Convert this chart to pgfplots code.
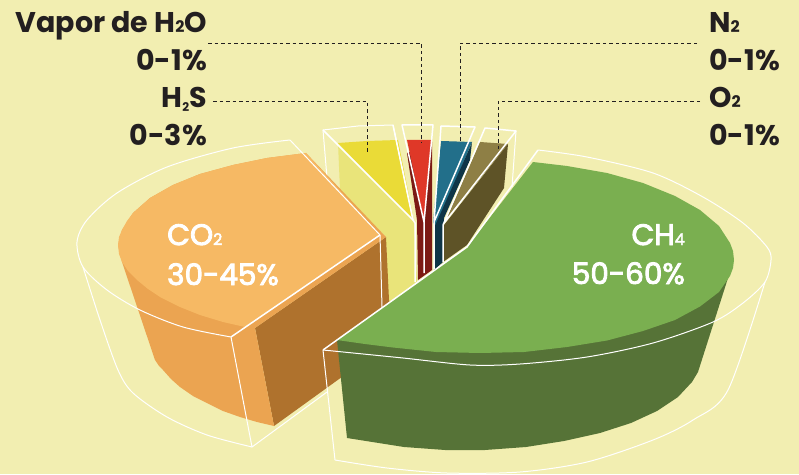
\documentclass[border=0pt]{standalone}
\usepackage{pgfplots}
\pgfplotsset{compat=1.18}
\usepackage{fontspec}
\setmainfont{Poppins}
\newfontfamily\whfont{Poppins}[FakeBold=3]
\definecolor{bgc}{HTML}{F2EEB1}
\definecolor{orT}{HTML}{F6B964}
\definecolor{orS}{HTML}{EBA451}
\definecolor{brn}{HTML}{AF722D}
\definecolor{grT}{HTML}{7AAF50}
\definecolor{grS}{HTML}{567337}
\definecolor{yeT}{HTML}{EADB37}
\definecolor{yeS}{HTML}{E9E47A}
\definecolor{reT}{HTML}{DF3828}
\definecolor{reS}{HTML}{7C1A14}
\definecolor{blT}{HTML}{226F8A}
\definecolor{blS}{HTML}{0F3547}
\definecolor{olT}{HTML}{8E7F45}
\definecolor{olS}{HTML}{5E5327}
\definecolor{ink}{HTML}{231F20}
\newcommand{\sub}[1]{{\fontsize{16}{16}\selectfont #1}}
\newcommand{\dk}[1]{\fontsize{28.5}{28.5}\selectfont\bfseries\color{ink}#1}
\newcommand{\wh}[1]{\fontsize{29.5}{29.5}\selectfont\whfont\color{white}#1}
\begin{document}
\begin{tikzpicture}
\begin{axis}[scale only axis,width=799pt,height=474pt,xmin=0,xmax=799,ymin=0,ymax=474,y dir=reverse,hide axis,clip=false,
  wire/.style={draw=white,line width=1pt,line join=round,mark=none,forget plot},
  wirb/.style={draw=white,line width=1.5pt,line join=round,mark=none,forget plot},
  dash/.style={draw=ink,line width=0.9pt,dash pattern=on 3.5pt off 3pt,mark=none,forget plot},
  face/.style={fill=#1,draw=none,mark=none,forget plot}]
\addplot[face=bgc] coordinates {(0,0)(799,0)(799,474)(0,474)} -- cycle;
% small sectors
\addplot[face=yeS] coordinates {(338,143)(414,222)(417,282)(388,303)(386,237)(340,190)} -- cycle;
\addplot[face=yeT] coordinates {(338,143)(367,141)(398,140)(414,222)} -- cycle;
\addplot[face=reS] coordinates {(407,153)(432,142)(432,270)(418,280)(417,220)} -- cycle;
\addplot[face=reT] coordinates {(407,140)(432,140)(424,220)} -- cycle;
\addplot[face=blT] coordinates {(441,141)(472,142)(436,228)(433,222)} -- cycle;
\addplot[face=blS] coordinates {(472,142)(470,160)(444,218)(443,262)(434,270)(434,228)(471,145)} -- cycle;
\addplot[face=olT] coordinates {(480,142)(508,144)(445,222)} -- cycle;
\addplot[face=olS] coordinates {(508,144)(504,188)(467,245)(443,262)(444,225)} -- cycle;
% wires of small sectors
\addplot[wire] coordinates {(327,178)(323,130)(358,126)(393,125)(413,220)};
\addplot[wirb] coordinates {(323,130)(413,220)};
\addplot[wirb] coordinates {(393,125)(413,220)(415,223)(415,282)};
\addplot[wirb] coordinates {(424,273)(424,222)(402,125)(433,125)(424,222)};
\addplot[wirb] coordinates {(434,269)(434,222)(441,126)(475,127)(434,222)};
\addplot[wirb] coordinates {(443,262)(443,225)(485,128)(516,131)(444,223)};
\addplot[wire] coordinates {(516,131)(512,187)};
% CO2
\addplot[face=brn] coordinates {(386,237)(255,328)(274,426)(400,335)(389,300)} -- cycle;
\addplot[face=orS] coordinates {(306,153)(386,237)(255,328)(274,426)(257,422)(240,417)(223,411)(207,403)(193,396)(180,387)(171,379)(163,370)(159,366)(155,360)(122,262)(118,245)(122,230)(133,213)(150,198)(173,185)(200,174)(233,165)(267,158)} -- cycle;
\addplot[face=orT] coordinates {(306,153)(267,158)(233,165)(200,174)(173,185)(150,198)(133,213)(127,221)(122,230)(119,237)(118,245)(119,254)(122,262)(128,271)(137,280)(148,289)(160,297)(180,307)(200,315)(223,322)(245,327)(380,235)} -- cycle;
\addplot[wire,smooth] coordinates {(290,140)(233,148)(167,167)(117,193)(87,220)(77,242)(83,267)(107,290)(140,310)(183,327)(231,337)};
\addplot[wire] coordinates {(290,140)(380,235)};
\addplot[wirb] coordinates {(380,235)(231,337)};
\addplot[wire] coordinates {(380,235)(382,307)};
\addplot[wire,smooth] coordinates {(83,267)(100,320)(118,370)(133,393)(167,417)(207,435)(252,447)};
\addplot[wire] coordinates {(231,337)(252,447)(327,392)};
% CH4
\addplot[face=grS] coordinates {(337,340)(728,278)(698,372)(692,382)(678,397)(657,411)(631,423)(600,433)(564,441)(526,447)(485,450)(445,450)(404,447)(366,441)(347,438)} -- cycle;
\addplot[face=grT] coordinates {(533,162)(567,166)(607,173)(643,183)(675,196)(700,210)(719,226)(730,243)(733,251)(734,260)(733,268)(730,276)(719,292)(700,306.5)(675,320)(643,331)(607,340.5)(567,347)(524,352)(480,353)(436,352)(393,347.5)(365,344)(337,340)(467,247)} -- cycle;
\addplot[wire,smooth] coordinates {(538,150)(587,157)(653,173)(703,197)(743,223)(767,247)(771,260)(765,282)(743,303)(713,322)(653,343)(587,357)(520,364)(470,365)(403,358)(323,350)};
\addplot[wirb] coordinates {(323,350)(467,247)(538,150)};
\addplot[wire,smooth] coordinates {(335,460)(387,468)(447,473)(520,472)(587,462)(653,440)(693,420)(728,390)(765,282)};
\addplot[wire] coordinates {(323,350)(335,460)};
% leaders
\addplot[dash] coordinates {(208,43)(421,43)(421,143)};
\addplot[dash] coordinates {(213,101)(367,101)(367,152)};
\addplot[dash] coordinates {(697,43)(460,43)(460,143)};
\addplot[dash] coordinates {(700,101)(498,101)(498,150)};
% labels
\node[anchor=base east,inner sep=0pt] at (axis cs:207,33) {\dk{Vapor de H\sub{2}O}};
\node[anchor=base east,inner sep=0pt] at (axis cs:207,71) {\dk{0-1\%}};
\node[anchor=base east,inner sep=0pt] at (axis cs:207,108) {\dk{H\raisebox{-4pt}{\fontsize{12}{12}\selectfont 2}S}};
\node[anchor=base east,inner sep=0pt] at (axis cs:207,146) {\dk{0-3\%}};
\node[anchor=base west,inner sep=0pt] at (axis cs:709,33) {\dk{N\sub{2}}};
\node[anchor=base west,inner sep=0pt] at (axis cs:709,71) {\dk{0-1\%}};
\node[anchor=base west,inner sep=0pt] at (axis cs:709,108) {\dk{O\sub{2}}};
\node[anchor=base west,inner sep=0pt] at (axis cs:709,146) {\dk{0-1\%}};
\node[anchor=base west,inner sep=0pt] at (axis cs:167,245) {\wh{CO\sub{2}}};
\node[anchor=base west,inner sep=0pt] at (axis cs:167,285) {\wh{30-45\%}};
\node[anchor=base east,inner sep=0pt] at (axis cs:685,245) {\wh{CH\sub{4}}};
\node[anchor=base east,inner sep=0pt] at (axis cs:685,284) {\wh{50-60\%}};
\end{axis}
\end{tikzpicture}
\end{document}
